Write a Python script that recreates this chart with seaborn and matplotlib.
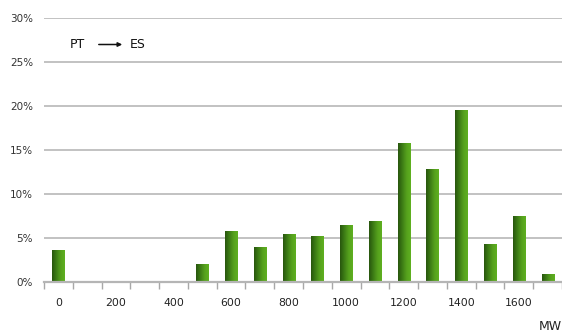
import numpy as np
import pandas as pd
import matplotlib
matplotlib.use("Agg")
import matplotlib.pyplot as plt
import seaborn as sns
from matplotlib.colors import LinearSegmentedColormap
from matplotlib.ticker import FixedLocator, PercentFormatter

# Flow capacity bins (MW) and share of hours in each bin
capacity_mw = [0, 100, 200, 300, 400, 500, 600, 700, 800, 900,
               1000, 1100, 1200, 1300, 1400, 1500, 1600, 1700]
share_pct = [3.6, 0.0, 0.0, 0.0, 0.0, 2.0, 5.8, 3.95, 5.4, 5.2,
             6.45, 6.9, 15.7, 12.8, 19.55, 4.3, 7.4, 0.9]
y_ticks = [0, 5, 10, 15, 20, 25, 30]
x_label_every = 2

df = pd.DataFrame({"mw": [str(v) for v in capacity_mw], "share": share_pct})

sns.set_theme(style="white")
plt.rcParams["font.family"] = ["DejaVu Sans"]

fig = plt.figure(figsize=(5.62, 3.33), dpi=100)
ax = fig.add_axes([44 / 562, 51.3 / 333, 1 - 44 / 562, 263.7 / 333])

sns.barplot(data=df, x="mw", y="share", order=df["mw"], ax=ax,
            width=0.42, color="#4a8a18", saturation=1, zorder=3)

# Horizontal dark-to-light green shading on each bar
grad = LinearSegmentedColormap.from_list(
    "bar_shade", ["#28560e", "#3d7c15", "#55a01d", "#5fb020"])
ramp = np.linspace(0, 1, 64).reshape(1, -1)
for p in ax.patches:
    x0, y0 = p.get_x(), p.get_y()
    w, h = p.get_width(), p.get_height()
    if h <= 0:
        continue
    ax.imshow(ramp, cmap=grad, aspect="auto", interpolation="bilinear",
              extent=(x0, x0 + w, y0, y0 + h), zorder=4)
    p.set_alpha(0)

ax.set_xlim(-0.5, len(capacity_mw) - 0.5)
ax.set_ylim(0, 30)
ax.set_yticks(y_ticks)
ax.yaxis.set_major_formatter(PercentFormatter(decimals=0))
ax.grid(axis="y", color="#c2c2c2", linewidth=1.4, zorder=0)
ax.grid(axis="x", visible=False)

# Category labels every 200 MW, tick marks on the bin boundaries
major = list(range(0, len(capacity_mw), x_label_every))
ax.xaxis.set_major_locator(FixedLocator(major))
ax.set_xticklabels([str(capacity_mw[i]) for i in major])
ax.xaxis.set_minor_locator(FixedLocator(np.arange(-0.5, len(capacity_mw), 1)))
ax.tick_params(axis="x", which="major", length=0, pad=12,
               labelsize=7.8, labelcolor="#222222")
ax.tick_params(axis="x", which="minor", bottom=True, length=5,
               width=1, color="#a8a8a8", direction="out")
ax.tick_params(axis="y", length=0, pad=8, labelsize=7.5,
               labelcolor="#333333")

for side in ("left", "right", "top"):
    ax.spines[side].set_visible(False)
ax.spines["bottom"].set_color("#b5b5b5")
ax.spines["bottom"].set_linewidth(1.6)
ax.spines["bottom"].set_zorder(5)
ax.set_xlabel("")
ax.set_ylabel("")

# Flow direction label
fig.text(70 / 562, 1 - 45 / 333, "PT", fontsize=9, color="#111111",
         va="center", ha="left")
fig.text(130 / 562, 1 - 45 / 333, "ES", fontsize=9, color="#111111",
         va="center", ha="left")
ax.annotate("", xy=(125 / 562, 1 - 44.5 / 333), xytext=(96 / 562, 1 - 44.5 / 333),
            xycoords="figure fraction", textcoords="figure fraction",
            arrowprops=dict(arrowstyle="-|>", color="#111111", lw=1.1,
                            mutation_scale=6))

fig.text(550 / 562, 1 - 327 / 333, "MW", fontsize=9, color="#222222",
         va="center", ha="center")

fig.savefig("out.png", dpi=100)
